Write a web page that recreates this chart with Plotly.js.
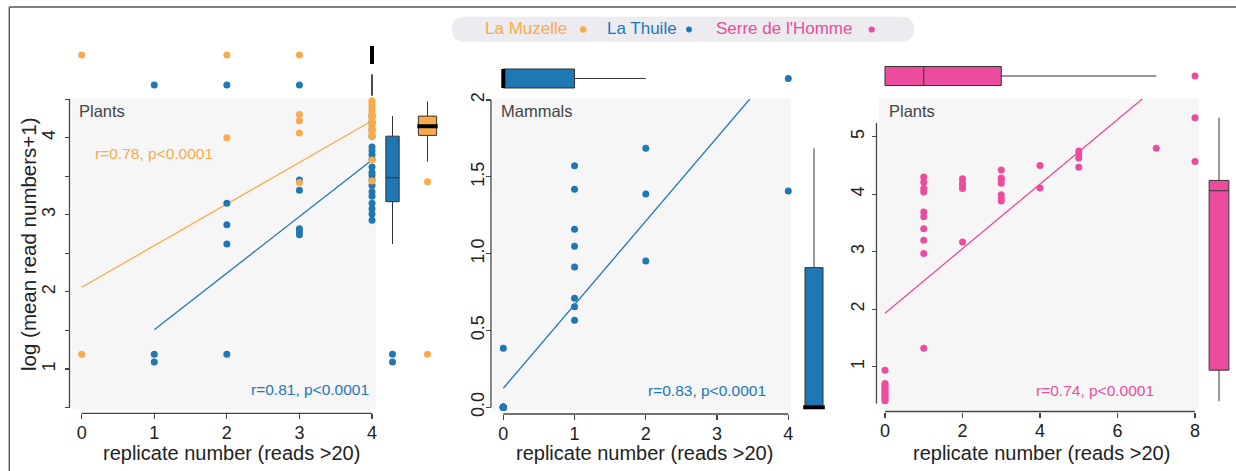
<!DOCTYPE html>
<html><head><meta charset="utf-8">
<script src="https://cdn.plot.ly/plotly-3.0.1.min.js"></script>
<style>html,body{margin:0;padding:0;background:#fff}#chart{width:1236px;height:471px}</style>
</head><body><div id="chart"></div>
<script>
const W = 1236, H = 471;
const PX = x => x / W, PY = y => 1 - y / H;
const FONT = 'Liberation Sans, Arial, Helvetica, sans-serif';

// ---------- colours ----------
const C_MUZ = '#fbaa4a', C_THU = '#1f77b4', C_SER = '#ec4c9e';
const BOX_LINE = '#333333';

// ---------- series names ----------
const siteNames = ['La Muzelle', 'La Thuile', "Serre de l'Homme"];

// ---------- Panel 1: Plants (La Muzelle, La Thuile) ----------
const muzX = [0, 2, 3, 3, 3, 3, 4, 4, 4, 4, 4, 4, 4, 4, 4, 4, 4, 4, 4, 4, 4, 4];
const muzY = [1.19, 4.00, 4.30, 4.22, 4.06, 3.42, 4.48, 4.45, 4.42, 4.38, 4.34, 4.30, 4.27, 4.24, 4.20, 4.17, 4.14, 4.10, 4.06, 4.02, 3.71, 3.44];
const thuX = [1, 1, 2, 2, 2, 2, 3, 3, 3, 3, 3, 4, 4, 4, 4, 4, 4, 4, 4, 4, 4, 4, 4, 4, 4, 4, 4, 4, 4, 4];
const thuY = [1.19, 1.09, 3.15, 2.87, 2.62, 1.19, 3.45, 3.32, 2.82, 2.78, 2.74, 4.28, 4.20, 4.10, 4.02, 3.88, 3.83, 3.78, 3.72, 3.62, 3.55, 3.51, 3.45, 3.38, 3.30, 3.24, 3.15, 3.08, 3.01, 2.93];
const fitMuzX = [0, 4], fitMuzY = [2.06, 4.22];
const fitThuX = [1, 4], fitThuY = [1.51, 3.71];
// marginal box statistics [q1, median, q3, lowerfence, upperfence]
const muzYBox = [4.03, 4.15, 4.28, 3.69, 4.47], muzYOut = [3.43, 1.19];
const thuYBox = [3.17, 3.48, 4.02, 2.62, 4.28], thuYOut = [1.19, 1.09];
const muzXBox = [4, 4, 4, 4, 4], muzXOut = [0, 2, 3];
const thuXBox = [4, 4, 4, 4, 4], thuXOut = [1, 2, 3];
const stat1a = 'r=0.78, p<0.0001', stat1b = 'r=0.81, p<0.0001';

// ---------- Panel 2: Mammals (La Thuile) ----------
const mamX = [0, 0, 0, 0, 0, 0, 0, 0, 0, 0, 0, 0, 0, 0, 1, 1, 1, 1, 1, 1, 1, 1, 2, 2, 2, 4];
const mamY = [0.384, 0, 0, 0, 0, 0, 0, 0, 0, 0, 0, 0, 0, 0, 1.572, 1.419, 1.158, 1.048, 0.913, 0.709, 0.655, 0.566, 1.686, 1.388, 0.952, 1.407];
const fitMamX = [0, 4], fitMamY = [0.124, 2.30];
const mamYBox = [0, 0, 0.909, 0, 1.686];
const mamXBox = [0, 0, 1, 0, 2], mamXOut = [4];
const stat2 = 'r=0.83, p<0.0001';

// ---------- Panel 3: Plants (Serre de l'Homme) ----------
const serX = [0, 0, 0, 0, 0, 0, 0, 0, 0, 0, 0, 0, 0,
              1, 1, 1, 1, 1, 1, 1, 1, 1, 1,
              2, 2, 2, 2, 2,
              3, 3, 3, 3, 3, 3, 3,
              4, 4, 5, 5, 5, 5, 7, 8, 8];
const serY = [0.94, 0.71, 0.68, 0.65, 0.62, 0.59, 0.56, 0.53, 0.50, 0.47, 0.44, 0.42, 0.41,
              4.30, 4.21, 4.10, 4.04, 3.69, 3.61, 3.40, 3.20, 2.97, 1.32,
              4.27, 4.20, 4.15, 4.10, 3.17,
              4.42, 4.28, 4.25, 4.19, 3.99, 3.93, 3.88,
              4.50, 4.11, 4.75, 4.69, 4.63, 4.47, 4.80, 5.33, 4.57];
const fitSerX = [0, 8], fitSerY = [1.93, 6.42];
const serYBox = [0.94, 4.06, 4.24, 0.40, 5.33];
const serXBox = [0, 1, 3, 0, 7], serXOut = [8];
const stat3 = 'r=0.74, p<0.0001';

const panelLabels = ['Plants', 'Mammals', 'Plants'];
const xTitle = 'replicate number (reads >20)';
const yTitle = 'log (mean read numbers+1)';

// ---------- trace helpers ----------
function pts(x, y, color, xa, ya) {
  return {type: 'scatter', mode: 'markers', x, y, xaxis: xa, yaxis: ya, cliponaxis: false,
    marker: {color, size: 7, line: {width: 0}}, showlegend: false, hoverinfo: 'skip'};
}
function fit(x, y, color, xa, ya) {
  return {type: 'scatter', mode: 'lines', x, y, xaxis: xa, yaxis: ya,
    line: {color, width: 1.3}, showlegend: false, hoverinfo: 'skip'};
}
function vbox(s, pos, w, fill, xa, ya) {
  return {type: 'box', x: [pos], q1: [s[0]], median: [s[1]], q3: [s[2]], lowerfence: [s[3]], upperfence: [s[4]],
    width: w, fillcolor: fill, line: {color: BOX_LINE, width: 1}, whiskerwidth: 0, boxpoints: false,
    xaxis: xa, yaxis: ya, showlegend: false, hoverinfo: 'skip'};
}
function hbox(s, pos, w, fill, xa, ya) {
  return {type: 'box', orientation: 'h', y: [pos], q1: [s[0]], median: [s[1]], q3: [s[2]], lowerfence: [s[3]], upperfence: [s[4]],
    width: w, fillcolor: fill, line: {color: BOX_LINE, width: 1}, whiskerwidth: 0, boxpoints: false,
    xaxis: xa, yaxis: ya, showlegend: false, hoverinfo: 'skip'};
}
function vmed(s, pos, w, xa, ya) {
  return {type: 'scatter', mode: 'lines', x: [pos - w / 2 - 0.03, pos + w / 2 + 0.03], y: [s[1], s[1]], xaxis: xa, yaxis: ya,
    line: {color: '#000', width: 4}, cliponaxis: false, showlegend: false, hoverinfo: 'skip'};
}
function hmed(s, pos, w, xa, ya) {
  return {type: 'scatter', mode: 'lines', y: [pos - w / 2, pos + w / 2], x: [s[1], s[1]], xaxis: xa, yaxis: ya,
    line: {color: '#000', width: 4}, cliponaxis: false, showlegend: false, hoverinfo: 'skip'};
}
function outV(vals, pos, color, xa, ya) { return pts(vals.map(() => pos), vals, color, xa, ya); }
function outH(vals, pos, color, xa, ya) { return pts(vals, vals.map(() => pos), color, xa, ya); }

const traces = [
  // panel 1
  fit(fitThuX, fitThuY, C_THU, 'x', 'y'),
  fit(fitMuzX, fitMuzY, C_MUZ, 'x', 'y'),
  pts(thuX, thuY, C_THU, 'x', 'y'),
  pts(muzX, muzY, C_MUZ, 'x', 'y'),
  vbox(thuYBox, 0, 0.38, C_THU, 'x4', 'y'),
  vbox(muzYBox, 1, 0.52, C_MUZ, 'x4', 'y'),
  vmed(muzYBox, 1, 0.52, 'x4', 'y'),
  outV(thuYOut, 0, C_THU, 'x4', 'y'),
  outV(muzYOut, 1, C_MUZ, 'x4', 'y'),
  hbox(thuXBox, 0, 0.7, C_THU, 'x', 'y4'),
  hbox(muzXBox, 1, 0.6, C_MUZ, 'x', 'y4'),
  hmed(muzXBox, 1, 0.6, 'x', 'y4'),
  outH(thuXOut, 0, C_THU, 'x', 'y4'),
  outH(muzXOut, 1, C_MUZ, 'x', 'y4'),
  // panel 2
  fit(fitMamX, fitMamY, C_THU, 'x2', 'y2'),
  pts(mamX, mamY, C_THU, 'x2', 'y2'),
  vbox(mamYBox, 0, 0.3, C_THU, 'x5', 'y2'),
  vmed(mamYBox, 0, 0.3, 'x5', 'y2'),
  hbox(mamXBox, 0, 0.317, C_THU, 'x2', 'y5'),
  hmed(mamXBox, 0, 0.317, 'x2', 'y5'),
  outH(mamXOut, 0, C_THU, 'x2', 'y5'),
  // panel 3
  fit(fitSerX, fitSerY, C_SER, 'x3', 'y3'),
  pts(serX, serY, C_SER, 'x3', 'y3'),
  vbox(serYBox, 0, 0.58, C_SER, 'x6', 'y3'),
  hbox(serXBox, 0, 0.317, C_SER, 'x3', 'y6'),
  outH(serXOut, 0, C_SER, 'x3', 'y6')
];

// ---------- axes ----------
const tickFont = {family: FONT, size: 18, color: '#222'};
function mainX(dom, rng, pos, vals) {
  return {domain: dom, range: rng, anchor: 'free', position: pos, tickvals: vals, ticks: 'outside', ticklen: 5,
    tickwidth: 1.2, tickcolor: '#444', showline: false, showgrid: false, zeroline: false, tickfont: tickFont,
    ticklabelstandoff: -2, fixedrange: true};
}
function mainY(dom, rng, pos, vals, text, standoff) {
  return {domain: dom, range: rng, anchor: 'free', position: pos, tickvals: vals, ticktext: text, tickangle: -90,
    ticks: 'outside', ticklen: 5, tickwidth: 1.2, tickcolor: '#444', showline: false, showgrid: false,
    zeroline: false, tickfont: tickFont, ticklabelstandoff: standoff, fixedrange: true};
}
const hidden = (dom, rng, anchor) => ({domain: dom, range: rng, visible: false, anchor, fixedrange: true});

const layout = {
  width: W, height: H, autosize: false, margin: {l: 0, r: 0, t: 0, b: 0},
  paper_bgcolor: '#ffffff', plot_bgcolor: 'rgba(0,0,0,0)', showlegend: false,
  font: {family: FONT},
  xaxis: mainX([PX(71.7), PX(376)], [-0.1378, 4.0551], PY(413.3), [0, 1, 2, 3, 4]),
  yaxis: mainY([PY(409.5), PY(99)], [0.4747, 4.502], PX(69.5), [0.5, 1, 1.5, 2, 2.5, 3, 3.5, 4, 4.5],
    ['', '1', '', '2', '', '3', '', '4', ''], 2),
  xaxis2: mainX([PX(493), PX(791)], [-0.1446, 4.0379], PY(414), [0, 1, 2, 3, 4]),
  yaxis2: mainY([PY(410), PY(99)], [-0.0176, 2.0065], PX(491), [0, 0.5, 1, 1.5, 2], ['0.0', '0.5', '1.0', '1.5', '2'], -5),
  xaxis3: mainX([PX(879), PX(1199)], [-0.1548, 8.1032], PY(411.5), [0, 2, 4, 6, 8]),
  yaxis3: mainY([PY(410), PY(99)], [0.2470, 5.6557], PX(876.5), [1, 2, 3, 4, 5], ['1', '2', '3', '4', '5'], 0),
  yaxis4: hidden([PY(100), PY(40)], [-0.5, 1.5], 'x'),
  xaxis4: hidden([PX(375), PX(445)], [-0.5, 1.5], 'y'),
  yaxis5: hidden([PY(108.5), PY(48.5)], [-0.5, 0.5], 'x2'),
  xaxis5: hidden([PX(784), PX(844)], [-0.5, 0.5], 'y2'),
  yaxis6: hidden([PY(106), PY(46)], [-0.5, 0.5], 'x3'),
  xaxis6: hidden([PX(1202), PX(1236)], [-0.5, 0.5], 'y3'),
  shapes: [],
  annotations: []
};

// plot backgrounds
[['x', 'y'], ['x2', 'y2'], ['x3', 'y3']].forEach(([xa, ya]) => {
  layout.shapes.push({type: 'rect', xref: xa + ' domain', yref: ya + ' domain', x0: 0, x1: 1, y0: 0, y1: 1,
    fillcolor: '#f6f6f6', line: {width: 0}, layer: 'below'});
});
// trimmed spines
const spine = {color: '#444', width: 1.3};
function xSpine(xa, a, b, ypx) {
  layout.shapes.push({type: 'line', xref: xa, yref: 'paper', x0: a, x1: b, y0: PY(ypx), y1: PY(ypx), line: spine});
}
function ySpine(ya, a, b, xpx) {
  layout.shapes.push({type: 'line', xref: 'paper', yref: ya, x0: PX(xpx), x1: PX(xpx), y0: a, y1: b, line: spine});
}
xSpine('x', 0, 4, 413.3); ySpine('y', 0.5, 4.5, 69.5);
xSpine('x2', 0, 4, 414); ySpine('y2', 0, 2, 491);
xSpine('x3', 0, 8, 411.5); ySpine('y3', 0.36, 5.24, 876.5);

// outer frame
layout.shapes.push({type: 'line', xref: 'paper', yref: 'paper', x0: PX(9.3), x1: 1, y0: PY(7), y1: PY(7), line: {color: '#555', width: 1.4}});
layout.shapes.push({type: 'line', xref: 'paper', yref: 'paper', x0: PX(9.3), x1: PX(9.3), y0: PY(7), y1: 0, line: {color: '#555', width: 1.4}});

// legend pill
(function () {
  const l = 452, r = 914, t = 16.7, b = 41.7, rad = 12.5;
  const p = (x, y) => PX(x) + ',' + PY(y);
  const path = 'M' + p(l + rad, t) + ' L' + p(r - rad, t) + ' Q' + p(r, t) + ' ' + p(r, t + rad) +
    ' Q' + p(r, b) + ' ' + p(r - rad, b) + ' L' + p(l + rad, b) + ' Q' + p(l, b) + ' ' + p(l, b - rad) +
    ' Q' + p(l, t) + ' ' + p(l + rad, t) + ' Z';
  layout.shapes.push({type: 'path', xref: 'paper', yref: 'paper', path, fillcolor: '#ebebf0', line: {width: 0}});
})();
const legendCols = [C_MUZ, C_THU, C_SER];
const legendTextX = [483, 604.5, 713.5];
const legendDotX = [583.3, 689, 871.7];
const legendDotR = [3.3, 2.9, 3.1];
siteNames.forEach((n, i) => {
  layout.annotations.push({text: n, xref: 'paper', yref: 'paper', x: PX(legendTextX[i]), y: PY(28.5),
    xanchor: 'left', yanchor: 'middle', showarrow: false, font: {family: FONT, size: 17, color: legendCols[i]}});
  const cx = legendDotX[i], cy = 29.5, rr = legendDotR[i];
  layout.shapes.push({type: 'circle', xref: 'paper', yref: 'paper', x0: PX(cx - rr), x1: PX(cx + rr),
    y0: PY(cy + rr), y1: PY(cy - rr), fillcolor: legendCols[i], line: {width: 0}});
});

// titles and labels
const ann = (text, x, y, opts) => layout.annotations.push(Object.assign({text, xref: 'paper', yref: 'paper',
  x: PX(x), y: PY(y), showarrow: false, xanchor: 'center', yanchor: 'middle'}, opts));
const titleFont = {family: FONT, size: 20, color: '#222'};
ann(yTitle, 28, 244, {textangle: -90, font: {family: FONT, size: 20.5, color: '#222'}});
ann(xTitle, 231, 453, {font: titleFont});
ann(xTitle, 644.5, 453, {font: titleFont});
ann(xTitle, 1041, 453, {font: titleFont});
const labFont = {family: FONT, size: 16.5, color: '#444'};
ann(panelLabels[0], 76.5, 110.5, {xanchor: 'left', font: labFont});
ann(panelLabels[1], 499, 110.5, {xanchor: 'left', font: labFont});
ann(panelLabels[2], 886.5, 110.5, {xanchor: 'left', font: labFont});
const stFont = c => ({family: FONT, size: 15.5, color: c});
ann(stat1a, 92.5, 153.5, {xanchor: 'left', font: stFont(C_MUZ)});
ann(stat1b, 371, 389.5, {xanchor: 'right', font: stFont(C_THU)});
ann(stat2, 768, 390.5, {xanchor: 'right', font: stFont(C_THU)});
ann(stat3, 1156, 390.5, {xanchor: 'right', font: stFont(C_SER)});

Plotly.newPlot('chart', traces, layout, {staticPlot: true, displayModeBar: false});
</script>
</body></html>
